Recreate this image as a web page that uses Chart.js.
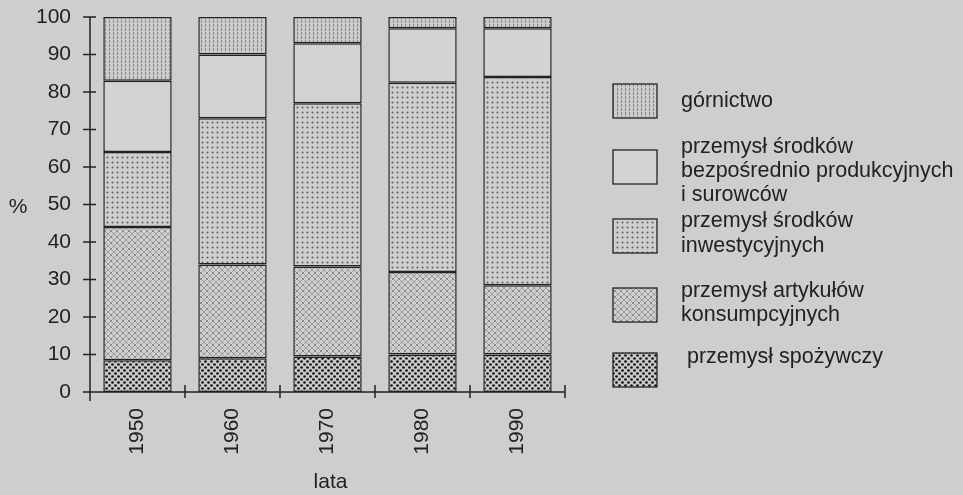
<!DOCTYPE html>
<html>
<head>
<meta charset="utf-8">
<script src="https://cdn.jsdelivr.net/npm/chart.js@4"></script>
<style>
  html, body { margin: 0; padding: 0; background: #cecece; }
  #wrap { width: 963px; height: 495px; }
</style>
</head>
<body>
<div id="wrap"><canvas id="chart" width="963" height="495"></canvas></div>
<script>
// Data (% of industrial output)
const years = ["1950", "1960", "1970", "1980", "1990"];
const spozywczy = [8.5, 9, 9.5, 10, 10];
const artykulow = [35.5, 25, 24, 22, 18.5];
const inwestycyjnych = [20, 39, 43.5, 50.5, 55.5];
const bezposrednio = [19, 17, 16, 14.5, 13];
const gornictwo = [17, 10, 7, 3, 3];
const yTicks = [0, 10, 20, 30, 40, 50, 60, 70, 80, 90, 100];

const seriesLabels = [
    ["przemysł spożywczy"],
    ["przemysł artykułów", "konsumpcyjnych"],
    ["przemysł środków", "inwestycyjnych"],
    ["przemysł środków", "bezpośrednio produkcyjnych", "i surowców"],
    ["górnictwo"],
];

const ink = "#222222";
const font = '"Liberation Sans", Arial, sans-serif';

// Helper to build a repeating fill pattern
function makePattern(size, draw) {
    const c = document.createElement("canvas");
    c.width = size;
    c.height = size;
    const g = c.getContext("2d");
    draw(g, size);
    return g.createPattern(c, "repeat");
}

const patFood = makePattern(6, (g) => {
    g.fillStyle = "#c9c9c9";
    g.fillRect(0, 0, 6, 6);
    g.fillStyle = "#151515";
    [[1.5, 1.5], [4.5, 4.5]].forEach(([x, y]) => {
        g.beginPath();
        g.arc(x, y, 1.35, 0, Math.PI * 2);
        g.fill();
    });
});

const patConsumer = makePattern(6, (g) => {
    g.fillStyle = "#d0d0d0";
    g.fillRect(0, 0, 6, 6);
    g.strokeStyle = "#8e8e8e";
    g.lineWidth = 0.8;
    g.beginPath();
    g.moveTo(0, 0); g.lineTo(6, 6);
    g.moveTo(6, 0); g.lineTo(0, 6);
    g.stroke();
    g.fillStyle = "#7a7a7a";
    g.beginPath();
    g.arc(3, 3, 0.8, 0, Math.PI * 2);
    g.fill();
});

const patInvest = makePattern(5, (g) => {
    g.fillStyle = "#cfcfcf";
    g.fillRect(0, 0, 5, 5);
    g.fillStyle = "#5e5e5e";
    g.beginPath();
    g.arc(2.5, 2.5, 1.0, 0, Math.PI * 2);
    g.fill();
});

const patMining = makePattern(4, (g) => {
    g.fillStyle = "#cbcbcb";
    g.fillRect(0, 0, 4, 4);
    g.fillStyle = "#8a8a8a";
    g.fillRect(1, 0, 1, 3);
});

const fills = [patFood, patConsumer, patInvest, "#d3d3d3", patMining];
const values = [spozywczy, artykulow, inwestycyjnych, bezposrednio, gornictwo];

const datasets = values.map((data, i) => ({
    label: seriesLabels[i].join(" "),
    data: data,
    backgroundColor: fills[i],
    borderColor: ink,
    borderWidth: 1.5,
    borderSkipped: false,
    barPercentage: 0.72,
    categoryPercentage: 1,
}));

// Legend layout (top to bottom), box top and text baselines
const legendRows = [
    { series: 4, boxTop: 84, lines: [107] },
    { series: 3, boxTop: 150, lines: [153, 177, 201] },
    { series: 2, boxTop: 219, lines: [227, 252] },
    { series: 1, boxTop: 288, lines: [297, 321] },
    { series: 0, boxTop: 353, lines: [363], indent: 6 },
];

const decorations = {
    id: "decorations",
    afterDatasetsDraw(chart) {
        const { ctx, chartArea, scales } = chart;
        const x = scales.x;
        const y = scales.y;
        const axisX = chartArea.left;
        const axisY = y.getPixelForValue(0);

        ctx.save();
        ctx.strokeStyle = ink;
        ctx.lineWidth = 1.5;
        ctx.beginPath();
        // y axis, running a bit below zero
        ctx.moveTo(axisX, y.getPixelForValue(100));
        ctx.lineTo(axisX, axisY + 9);
        // x axis, starting a bit left of the y axis
        ctx.moveTo(axisX - 6, axisY);
        ctx.lineTo(chartArea.right, axisY);
        // y ticks cross the axis
        yTicks.forEach((v) => {
            const py = y.getPixelForValue(v);
            ctx.moveTo(axisX - 7, py);
            ctx.lineTo(axisX + 6, py);
        });
        // x ticks at category boundaries
        for (let i = 1; i <= years.length; i++) {
            const px = i < years.length
                ? (x.getPixelForValue(i - 1) + x.getPixelForValue(i)) / 2
                : chartArea.right;
            ctx.moveTo(px, axisY - 7);
            ctx.lineTo(px, axisY + 6);
        }
        ctx.stroke();

        // axis titles
        ctx.fillStyle = ink;
        ctx.font = "21px " + font;
        ctx.textAlign = "center";
        ctx.textBaseline = "middle";
        ctx.fillText("%", 18, y.getPixelForValue(50) + 3);
        ctx.fillText("lata", (chartArea.left + chartArea.right) / 2 + 3, 482);

        // legend
        const boxX = chartArea.right + 48;
        const textX = chartArea.right + 116;
        ctx.textAlign = "left";
        ctx.textBaseline = "alphabetic";
        legendRows.forEach((row) => {
            ctx.fillStyle = fills[row.series];
            ctx.fillRect(boxX, row.boxTop, 44, 34);
            ctx.lineWidth = 1.3;
            ctx.strokeRect(boxX, row.boxTop, 44, 34);
            ctx.fillStyle = ink;
            ctx.font = "21.5px " + font;
            seriesLabels[row.series].forEach((line, j) => {
                ctx.fillText(line, textX + (row.indent || 0), row.lines[j]);
            });
        });
        ctx.restore();
    }
};

const ctx = document.getElementById("chart").getContext("2d");

new Chart(ctx, {
    type: "bar",
    data: { labels: years, datasets: datasets },
    options: {
        responsive: false,
        animation: false,
        layout: { padding: { top: 17, right: 398, left: 0, bottom: 0 } },
        plugins: {
            legend: { display: false },
            tooltip: { enabled: false },
        },
        scales: {
            x: {
                stacked: true,
                offset: true,
                grid: { display: false, drawTicks: false },
                border: { display: false },
                ticks: {
                    color: ink,
                    font: { family: font, size: 21 },
                    minRotation: 90,
                    maxRotation: 90,
                    padding: 16,
                },
                afterFit(scale) {
                    scale.height = 103;
                    scale.paddingLeft = 0;
                    scale.paddingRight = 0;
                },
            },
            y: {
                stacked: true,
                min: 0,
                max: 100,
                grid: { display: false, drawTicks: false },
                border: { display: false },
                ticks: {
                    stepSize: 10,
                    color: ink,
                    font: { family: font, size: 21 },
                    padding: 19,
                },
                afterFit(scale) {
                    scale.width = 90;
                    scale.paddingTop = 0;
                    scale.paddingBottom = 0;
                },
            },
        },
    },
    plugins: [decorations],
});
</script>
</body>
</html>
